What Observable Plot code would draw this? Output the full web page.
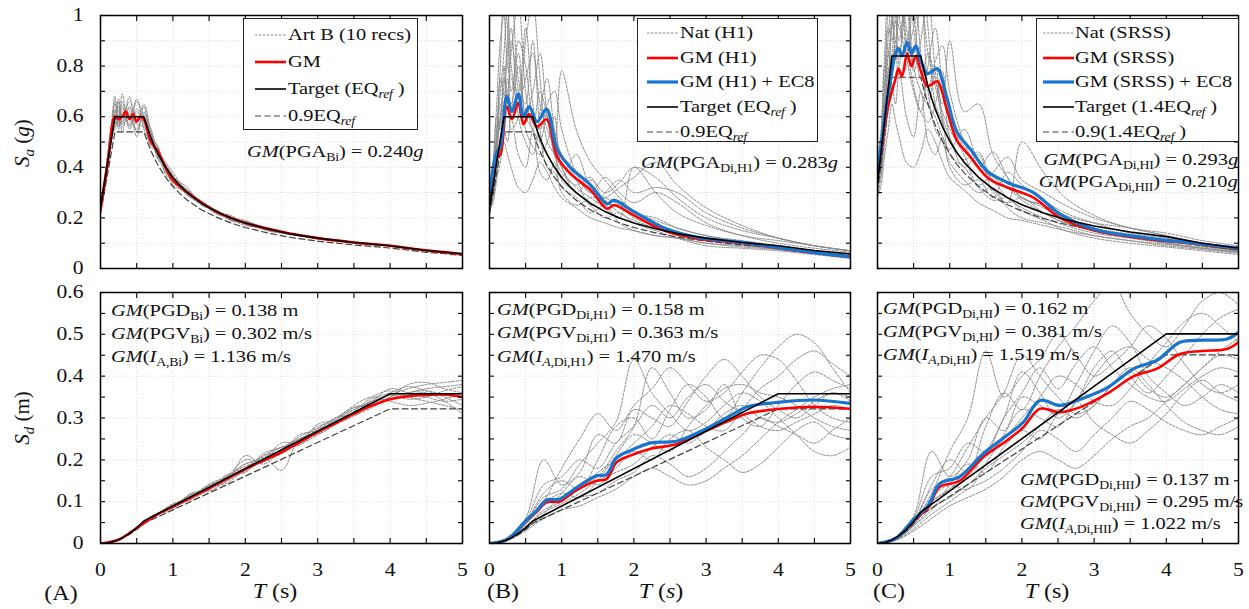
<!DOCTYPE html>
<html><head><meta charset="utf-8">
<script src="https://cdn.jsdelivr.net/npm/d3@7"></script>
<script src="https://cdn.jsdelivr.net/npm/@observablehq/plot@0.6"></script>
<style>
body{margin:0;background:#fff;}
#chart{position:relative;width:1249px;height:609px;overflow:hidden;font-family:"Liberation Serif","Times New Roman",serif;color:#111;background:#fff;}
#chart > svg{position:absolute;}
.t{position:absolute;white-space:nowrap;font-size:17px;line-height:20px;transform:scaleX(1.2);transform-origin:0 50%;}
.t.end{transform-origin:100% 50%;}
.t sub{font-size:11.5px;vertical-align:-4px;line-height:0;letter-spacing:-0.2px;}
.ax{position:absolute;white-space:nowrap;font-size:20px;line-height:24px;transform:translate(-50%,-50%) scaleX(1.2);}
.ax sub{font-size:14px;vertical-align:-5px;line-height:0;}
.axr{position:absolute;white-space:nowrap;font-size:21px;line-height:24px;transform:translate(-50%,-50%) rotate(-90deg);}
.axr sub{font-size:15px;vertical-align:-5px;line-height:0;}
.leg{position:absolute;border:1.3px solid #222;background:#fff;box-sizing:border-box;}
</style></head>
<body><div id="chart"></div>
<script>
// ---------------- DATA ----------------
const tSa = [0,0.05,0.1,0.15,0.2,0.25,0.3,0.4,0.5,0.6,0.7,0.8,0.9,1.0,1.2,1.4,1.6,1.8,2.0,2.3,2.6,3.0,3.5,4.0,4.5,5.0];
const tSd = [0,0.25,0.5,0.75,1,1.25,1.5,1.75,2,2.25,2.5,2.75,3,3.25,3.5,3.75,4,4.25,4.5,4.75,5];

// Panel A: Art B (10 recs)
const saA_recs = [
 [.24,.34,.45,.55,.63,.58,.66,.55,.62,.57,.50,.47,.38,.35,.31,.25,.23,.19,.185,.15,.14,.118,.105,.09,.072,.058],
 [.23,.31,.40,.52,.56,.66,.54,.64,.58,.65,.53,.43,.41,.37,.29,.26,.22,.21,.175,.16,.135,.122,.10,.088,.07,.056],
 [.24,.33,.44,.57,.68,.55,.62,.59,.67,.55,.49,.46,.39,.34,.30,.265,.22,.20,.19,.155,.14,.117,.104,.092,.072,.059],
 [.23,.32,.41,.50,.58,.64,.57,.68,.54,.61,.55,.44,.40,.36,.32,.25,.23,.195,.17,.16,.14,.12,.102,.089,.07,.057],
 [.24,.35,.43,.53,.62,.57,.69,.56,.63,.58,.52,.48,.37,.35,.29,.26,.225,.205,.18,.15,.135,.12,.104,.09,.071,.058],
 [.23,.30,.42,.54,.55,.61,.56,.62,.52,.64,.50,.45,.42,.38,.30,.25,.23,.19,.185,.16,.14,.118,.102,.09,.07,.057],
 [.24,.33,.45,.56,.65,.60,.64,.57,.66,.60,.54,.43,.39,.34,.31,.26,.215,.20,.175,.155,.137,.122,.104,.09,.072,.058],
 [.23,.32,.40,.52,.59,.67,.60,.63,.57,.56,.48,.46,.41,.36,.29,.255,.23,.19,.18,.16,.14,.12,.103,.091,.071,.057],
 [.24,.34,.43,.55,.61,.56,.63,.60,.55,.62,.51,.44,.40,.33,.30,.26,.22,.205,.18,.155,.137,.117,.104,.09,.07,.058],
 [.23,.31,.44,.53,.66,.62,.58,.66,.60,.58,.53,.47,.38,.36,.31,.25,.23,.195,.185,.158,.14,.12,.102,.089,.071,.058]
];
const sdA_recs = [
 [0,.009,.038,.068,.085,.115,.13,.16,.185,.2,.225,.25,.27,.29,.32,.34,.355,.37,.38,.385,.39],
 [0,.009,.036,.064,.092,.108,.138,.15,.21,.19,.22,.24,.275,.3,.31,.33,.35,.36,.365,.355,.35],
 [0,.010,.039,.07,.08,.12,.128,.165,.17,.205,.175,.25,.26,.285,.315,.35,.365,.35,.34,.33,.32],
 [0,.009,.037,.066,.095,.11,.14,.155,.18,.21,.23,.235,.27,.3,.325,.33,.345,.36,.37,.375,.38],
 [0,.008,.035,.065,.088,.105,.13,.16,.19,.2,.215,.245,.28,.29,.31,.345,.36,.375,.365,.35,.33],
 [0,.010,.038,.069,.09,.118,.125,.15,.175,.215,.23,.25,.265,.295,.33,.35,.34,.33,.335,.345,.36],
 [0,.009,.037,.067,.086,.112,.142,.162,.2,.195,.225,.255,.275,.285,.305,.325,.35,.38,.385,.37,.36],
 [0,.009,.036,.066,.093,.11,.133,.145,.178,.2,.24,.24,.26,.3,.32,.34,.37,.36,.35,.34,.345],
 [0,.010,.039,.068,.087,.116,.131,.158,.172,.21,.22,.26,.27,.29,.31,.34,.345,.355,.36,.34,.31],
 [0,.009,.037,.067,.091,.109,.137,.16,.19,.205,.23,.24,.285,.295,.325,.335,.355,.345,.35,.365,.375]
];
const saA_gmT = [0,.1,.2,.25,.3,.35,.4,.45,.5,.55,.6,.7,.8,.9,1.0,1.2,1.4,1.6,1.8,2.0,2.5,3.0,3.5,4.0,4.5,5.0];
const saA_gm  = [.23,.42,.60,.59,.60,.62,.59,.61,.58,.60,.59,.50,.46,.40,.35,.30,.26,.225,.20,.18,.145,.12,.103,.09,.072,.057];
const sdA_gm  = [0,.009,.037,.066,.088,.11,.132,.155,.178,.198,.218,.242,.266,.288,.31,.33,.345,.352,.355,.356,.35];

// Panel B: Nat (H1)
const saB_recs = [
 [.28,.35,.55,.80,1.10,.95,.70,.85,.60,.55,.50,.62,.45,.40,.30,.35,.30,.34,.40,.36,.28,.20,.15,.12,.09,.07],
 [.25,.30,.45,.60,.72,.90,1.15,.75,.65,.90,.55,.40,.38,.32,.28,.22,.25,.18,.15,.13,.12,.10,.09,.075,.06,.045],
 [.30,.40,.60,.55,.80,.65,.85,1.05,.70,.55,.70,.60,.50,.78,.55,.42,.35,.28,.22,.20,.16,.13,.11,.09,.07,.055],
 [.22,.28,.38,.50,.62,.70,.55,.60,.90,1.05,.75,.50,.45,.35,.30,.25,.20,.22,.18,.15,.12,.09,.08,.07,.055,.04],
 [.27,.33,.50,.75,.68,.85,.95,.60,.50,.45,.62,.75,.55,.45,.36,.30,.28,.25,.20,.17,.14,.12,.10,.08,.06,.045],
 [.24,.30,.42,.48,.55,.50,.60,.45,.40,.55,.38,.35,.42,.30,.25,.28,.28,.32,.36,.42,.33,.24,.17,.12,.09,.07],
 [.32,.42,.65,.90,1.0,.80,.75,.70,.95,.65,.50,.45,.40,.36,.45,.32,.27,.22,.19,.16,.13,.11,.095,.08,.065,.05],
 [.26,.32,.48,.60,.65,.75,.62,.90,.80,.60,.55,.65,.70,.55,.38,.30,.36,.30,.26,.30,.26,.18,.13,.10,.08,.065],
 [.23,.26,.35,.42,.50,.45,.40,.32,.30,.35,.42,.38,.32,.28,.24,.20,.18,.16,.15,.13,.12,.10,.085,.075,.06,.05],
 [.29,.38,.55,.70,.85,1.05,.80,.65,.75,.85,.65,.55,.48,.42,.35,.25,.30,.35,.30,.32,.30,.22,.16,.12,.09,.07],
 [.26,.34,.50,.58,.75,.70,.90,.70,.55,.48,.45,.50,.60,.40,.32,.28,.24,.20,.40,.30,.22,.17,.13,.11,.09,.07],
 [.25,.31,.44,.65,.60,.68,.65,.80,.60,.70,.85,.60,.45,.38,.33,.36,.26,.25,.22,.19,.16,.13,.105,.09,.07,.055]
];
const sdB_recs = [
 [0,.012,.05,.12,.15,.13,.20,.28,.30,.25,.32,.38,.35,.30,.36,.42,.47,.50,.48,.42,.36],
 [0,.010,.04,.08,.10,.14,.16,.22,.28,.42,.36,.30,.32,.38,.30,.28,.33,.38,.41,.39,.37],
 [0,.008,.035,.065,.09,.11,.12,.15,.17,.21,.19,.16,.18,.22,.26,.30,.28,.26,.24,.27,.30],
 [0,.015,.06,.20,.14,.17,.26,.24,.32,.30,.28,.34,.40,.44,.40,.35,.32,.30,.33,.36,.34],
 [0,.009,.04,.07,.12,.16,.14,.18,.22,.20,.25,.27,.23,.20,.17,.19,.23,.27,.29,.26,.25],
 [0,.011,.045,.10,.18,.25,.31,.27,.33,.37,.42,.38,.34,.36,.41,.45,.44,.39,.33,.30,.29],
 [0,.007,.03,.06,.08,.09,.11,.13,.16,.18,.16,.14,.15,.18,.21,.25,.29,.32,.35,.37,.38],
 [0,.013,.055,.14,.16,.20,.18,.24,.28,.33,.30,.35,.38,.34,.31,.28,.27,.29,.31,.33,.32],
 [0,.010,.045,.09,.11,.13,.17,.20,.24,.28,.33,.31,.28,.27,.32,.37,.40,.44,.46,.43,.40],
 [0,.012,.05,.11,.13,.19,.24,.29,.44,.36,.31,.27,.29,.33,.36,.34,.30,.26,.22,.21,.23],
 [0,.009,.04,.075,.095,.12,.15,.17,.19,.23,.26,.24,.27,.31,.33,.30,.29,.31,.34,.36,.35],
 [0,.011,.048,.095,.12,.11,.15,.21,.26,.24,.22,.28,.33,.37,.38,.36,.35,.33,.30,.28,.27]
];
const saB_gmT = [0,.1,.15,.24,.31,.4,.47,.55,.66,.79,.94,1.12,1.4,1.63,1.72,2.0,2.42,2.88,3.58,4.04,4.5,5.0];
const saB_gm  = [.28,.44,.45,.64,.59,.655,.57,.61,.56,.59,.44,.375,.31,.236,.25,.21,.15,.118,.098,.078,.062,.045];
const saB_ec8 = [.29,.46,.48,.68,.62,.69,.60,.64,.58,.63,.47,.40,.33,.255,.27,.225,.16,.123,.10,.08,.063,.046];
const sdB_gmT = [0,.25,.51,.65,.79,.97,1.2,1.48,1.62,1.76,1.95,2.22,2.6,3.01,3.38,3.57,4.03,4.49,5.0];
const sdB_gm  = [0,.01,.055,.075,.099,.10,.127,.15,.154,.194,.21,.226,.238,.27,.298,.311,.322,.327,.322];
const sdB_ec8 = [0,.01,.056,.078,.104,.106,.133,.162,.165,.205,.222,.24,.245,.275,.31,.327,.338,.343,.335];

// Panel C: Nat (SRSS)
const saC_recs = [
 [.38,.50,.75,1.05,1.20,1.0,.90,1.10,.80,.70,.65,.80,.60,.52,.40,.45,.30,.26,.28,.22,.18,.15,.13,.11,.09,.07],
 [.33,.42,.60,.85,.95,1.15,1.25,.95,.85,1.10,.70,.55,.50,.42,.35,.30,.32,.24,.20,.18,.16,.13,.11,.09,.075,.06],
 [.40,.52,.80,.75,1.0,.85,1.05,1.20,.95,.75,.85,.75,.65,.90,.62,.65,.45,.36,.28,.25,.20,.16,.13,.10,.08,.065],
 [.29,.36,.50,.65,.80,.90,.75,.80,1.10,1.20,.95,.65,.58,.45,.40,.32,.27,.28,.23,.19,.15,.12,.10,.085,.07,.055],
 [.36,.45,.68,.95,.90,1.10,1.20,.85,.70,.62,.80,.95,.72,.58,.48,.40,.36,.32,.27,.22,.18,.15,.13,.10,.08,.065],
 [.31,.38,.55,.62,.72,.65,.78,.60,.52,.70,.50,.45,.52,.40,.33,.35,.28,.38,.33,.27,.22,.18,.14,.12,.10,.08],
 [.43,.55,.85,1.15,1.25,1.05,.95,.90,1.15,.85,.65,.60,.52,.47,.55,.42,.35,.28,.24,.20,.17,.14,.12,.10,.085,.07],
 [.34,.42,.62,.78,.85,.98,.80,1.12,1.0,.78,.72,.82,.88,.70,.50,.40,.46,.36,.28,.25,.21,.18,.16,.13,.10,.085],
 [.28,.33,.45,.55,.65,.58,.52,.42,.40,.46,.55,.50,.42,.36,.31,.26,.23,.20,.19,.17,.15,.13,.11,.095,.08,.065],
 [.39,.50,.72,.92,1.10,1.25,1.0,.85,.95,1.05,.85,.72,.62,.55,.45,.33,.38,.44,.35,.30,.25,.20,.16,.13,.10,.08],
 [.35,.44,.65,.75,.98,.90,1.15,.90,.72,.62,.58,.65,.78,.52,.42,.36,.31,.26,.50,.38,.28,.21,.16,.14,.11,.09],
 [.33,.40,.58,.85,.78,.88,.85,1.05,.78,.90,1.08,.78,.58,.50,.43,.46,.34,.32,.28,.24,.20,.16,.135,.11,.09,.07]
];
const sdC_recs = [
 [0,.012,.05,.14,.20,.17,.28,.36,.32,.40,.47,.52,.58,.62,.55,.50,.47,.52,.58,.60,.57],
 [0,.010,.045,.10,.13,.18,.22,.30,.41,.36,.30,.34,.42,.46,.40,.36,.40,.45,.50,.54,.56],
 [0,.008,.035,.07,.10,.13,.15,.18,.22,.27,.25,.22,.26,.30,.34,.32,.29,.27,.26,.28,.30],
 [0,.015,.065,.22,.16,.20,.30,.27,.35,.33,.31,.38,.46,.52,.48,.40,.36,.33,.35,.38,.36],
 [0,.009,.042,.08,.14,.19,.17,.23,.27,.25,.31,.34,.29,.26,.24,.27,.31,.36,.39,.36,.34],
 [0,.011,.05,.12,.22,.30,.46,.35,.40,.44,.50,.45,.40,.43,.47,.52,.49,.43,.38,.36,.38],
 [0,.007,.03,.06,.09,.11,.13,.16,.20,.22,.20,.18,.21,.25,.28,.30,.34,.38,.42,.46,.49],
 [0,.013,.06,.16,.18,.24,.22,.30,.36,.42,.37,.43,.47,.42,.38,.35,.34,.37,.40,.42,.41],
 [0,.010,.047,.10,.13,.16,.21,.25,.30,.35,.40,.38,.34,.33,.37,.43,.48,.53,.55,.52,.48],
 [0,.012,.055,.13,.16,.23,.30,.36,.45,.40,.35,.31,.33,.38,.42,.38,.33,.29,.27,.26,.28],
 [0,.009,.042,.085,.11,.14,.18,.21,.24,.28,.32,.30,.33,.38,.41,.37,.35,.38,.42,.45,.44],
 [0,.011,.05,.11,.14,.13,.19,.26,.32,.30,.28,.34,.40,.45,.47,.44,.42,.39,.35,.32,.31]
];
const saC_gmT = [0,.07,.13,.2,.25,.29,.34,.41,.47,.53,.6,.69,.76,.83,.965,1.1,1.29,1.52,1.8,2.16,2.53,3.0,3.69,4.38,5.0];
const saC_gm  = [.37,.50,.62,.70,.75,.79,.76,.85,.80,.84,.78,.72,.73,.74,.625,.506,.44,.36,.32,.28,.20,.15,.118,.098,.078];
const saC_ec8 = [.38,.53,.66,.78,.85,.87,.84,.895,.85,.88,.82,.77,.78,.79,.67,.54,.47,.385,.34,.30,.215,.155,.122,.10,.08];
const sdC_gmT = [0,.25,.49,.7,.86,1.14,1.46,1.79,2.02,2.25,2.53,2.81,3.18,3.55,3.87,4.19,4.5,4.84,5.0];
const sdC_gm  = [0,.012,.055,.085,.135,.15,.206,.246,.278,.322,.314,.326,.358,.40,.418,.453,.46,.465,.481];
const sdC_ec8 = [0,.012,.056,.09,.143,.16,.214,.258,.29,.342,.33,.345,.372,.418,.438,.481,.486,.489,.505];

// Targets
const tgtSaT   = [0,0.2,0.6,0.65,0.7,0.75,0.8,0.9,1.0,1.1,1.2,1.4,1.6,1.8,2.0,2.3,2.6,3.0,3.5,4.0,4.5,5.0];
const saRef    = [.24,.60,.60,.554,.514,.48,.45,.40,.36,.327,.30,.257,.225,.20,.18,.157,.138,.12,.103,.09,.071,.058];
const saRef09  = [.216,.54,.54,.499,.463,.432,.405,.36,.324,.295,.27,.231,.203,.18,.162,.141,.124,.108,.093,.081,.064,.052];
const sa14     = [.336,.84,.84,.775,.72,.672,.63,.56,.504,.458,.42,.36,.315,.28,.252,.219,.194,.168,.144,.126,.10,.081];
const sa14_09  = [.302,.756,.756,.698,.648,.605,.567,.504,.454,.412,.378,.324,.284,.252,.227,.197,.175,.151,.13,.113,.09,.073];
const tgtSdT   = [0,0.1,0.2,0.3,0.4,0.5,0.6,4,5];
const sdRef    = [0,.001,.006,.0134,.0239,.0373,.0537,.358,.358];
const sdRef09  = [0,.0009,.0054,.0121,.0215,.0336,.0483,.322,.322];
const sd14     = [0,.0015,.0083,.0188,.0334,.0522,.0752,.501,.501];
const sd14_09  = [0,.0013,.0075,.0169,.0301,.047,.0677,.451,.451];

// Ticks
const xLabelTicks = [0,1,2,3,4,5];
const xMinorTicks = [0,0.5,1,1.5,2,2.5,3,3.5,4,4.5,5];
const yTopLabels = [0,0.2,0.4,0.6,0.8,1];
const yTopMinor = [0,0.1,0.2,0.3,0.4,0.5,0.6,0.7,0.8,0.9,1];
const yBotLabels = [0,0.1,0.2,0.3,0.4,0.5,0.6];
const yBotMinor = [0,0.05,0.1,0.15,0.2,0.25,0.3,0.35,0.4,0.45,0.5,0.55,0.6];

// ---------------- STYLE / LAYOUT ----------------
const C = {
  rec: {stroke:"#8a8a8a", w:1, dash:"2.5,1.5"},
  gm:  {stroke:"#ff0000", w:2.6},
  ec8: {stroke:"#1874cd", w:3.2},
  tgt: {stroke:"#000000", w:1.6},
  t09: {stroke:"#404040", w:1.2, dash:"6,3.5"}
};
const colLeft = [100, 489, 877], colW = [362, 361, 361];
const rowTop = [15, 292], rowH = [253, 251];
const SX = 1.2;
const chart = document.getElementById("chart");
const rows = (T, v) => T.map((t, i) => ({T: t, v: v[i]}));
const recRows = (T, recs) => recs.flatMap((vals, id) => vals.map((v, i) => ({T: T[i], v, id})));
const fmt = d => String(+d.toFixed(2));

function stretchText(svg) {
  svg.querySelectorAll("text").forEach(el => {
    const tr = el.getAttribute("transform") || "";
    if (/rotate/.test(tr)) return;
    const x = el.getAttribute("x");
    let extra = "";
    if (x != null && /^-?[\d.]+$/.test(x.trim())) { extra = ` translate(${x},0)`; el.removeAttribute("x"); }
    el.setAttribute("transform", `${tr}${extra} scale(${SX},1)`);
  });
}

function panel(p) {
  const {col, row} = p;
  const ml = col === 0 ? 60 : 8, mr = 8, mt = 14, mb = row === 1 ? 40 : 14;
  const yMax = row === 0 ? 1 : 0.6;
  const yMinor = row === 0 ? yTopMinor : yBotMinor;
  const yLabels = row === 0 ? yTopLabels : yBotLabels;
  const gridStyle = {stroke: "#d4d4d4", strokeOpacity: 1, strokeDasharray: "1,2", strokeWidth: 0.8};
  const line = (data, s, extra = {}) => Plot.line(data, {x: "T", y: "v", stroke: s.stroke, strokeWidth: s.w, strokeDasharray: s.dash, clip: true, ...extra});
  const marks = [
    Plot.gridX(xMinorTicks.slice(1, -1), gridStyle),
    Plot.gridY((row === 0 ? yTopMinor : yBotLabels).slice(1, -1), gridStyle),
    line(recRows(p.recT, p.recs), C.rec, {z: "id", curve: "catmull-rom"}),
    line(rows(p.tgtT, p.t09), C.t09),
    line(rows(p.gmT, p.gm), C.gm, {curve: "catmull-rom"})
  ];
  if (p.ec8) marks.push(line(rows(p.gmT, p.ec8), C.ec8, {curve: "catmull-rom"}));
  marks.push(line(rows(p.tgtT, p.tgt), C.tgt));
  marks.push(Plot.frame({stroke: "#000", strokeWidth: 1.5}));
  const tk = {tickFormat: () => "", label: null, stroke: "#000", strokeWidth: 1.1};
  marks.push(
    Plot.axisY(yMinor, {anchor: "left", tickSize: -5, ...tk}),
    Plot.axisY(yMinor, {anchor: "right", tickSize: -5, ...tk}),
    Plot.axisX(xMinorTicks, {anchor: "bottom", tickSize: -5, ...tk}),
    Plot.axisX(xMinorTicks, {anchor: "top", tickSize: -5, ...tk})
  );
  if (col === 0) marks.push(Plot.axisY(yLabels, {anchor: "left", tickSize: 0, tickPadding: 17, tickFormat: fmt, label: null, fill: "#111"}));
  if (row === 1) marks.push(Plot.axisX(xLabelTicks, {anchor: "bottom", tickSize: 0, tickPadding: 20, tickFormat: fmt, label: null, fill: "#111"}));
  const svg = Plot.plot({
    width: ml + colW[col] + mr, height: mt + rowH[row] + mb,
    marginLeft: ml, marginRight: mr, marginTop: mt, marginBottom: mb,
    x: {domain: [0, 5]}, y: {domain: [0, yMax]},
    style: {fontFamily: '"Liberation Serif", serif', fontSize: "18px", background: "transparent", color: "#111"},
    marks
  });
  svg.style.left = (colLeft[col] - ml) + "px";
  svg.style.top = (rowTop[row] - mt) + "px";
  stretchText(svg);
  chart.appendChild(svg);
}

panel({col: 0, row: 0, recT: tSa, recs: saA_recs, gmT: saA_gmT, gm: saA_gm, tgtT: tgtSaT, tgt: saRef, t09: saRef09});
panel({col: 1, row: 0, recT: tSa, recs: saB_recs, gmT: saB_gmT, gm: saB_gm, ec8: saB_ec8, tgtT: tgtSaT, tgt: saRef, t09: saRef09});
panel({col: 2, row: 0, recT: tSa, recs: saC_recs, gmT: saC_gmT, gm: saC_gm, ec8: saC_ec8, tgtT: tgtSaT, tgt: sa14, t09: sa14_09});
panel({col: 0, row: 1, recT: tSd, recs: sdA_recs, gmT: tSd, gm: sdA_gm, tgtT: tgtSdT, tgt: sdRef, t09: sdRef09});
panel({col: 1, row: 1, recT: tSd, recs: sdB_recs, gmT: sdB_gmT, gm: sdB_gm, ec8: sdB_ec8, tgtT: tgtSdT, tgt: sdRef, t09: sdRef09});
panel({col: 2, row: 1, recT: tSd, recs: sdC_recs, gmT: sdC_gmT, gm: sdC_gm, ec8: sdC_ec8, tgtT: tgtSdT, tgt: sd14, t09: sd14_09});

// ---------------- TEXT ----------------
function txt(html, x, cy, cls = "t", anchor = "start") {
  const d = document.createElement("div");
  d.className = cls + (anchor === "end" ? " end" : "");
  d.innerHTML = html;
  if (anchor === "end") d.style.right = (1249 - x) + "px"; else d.style.left = x + "px";
  d.style.top = (cy - 10) + "px";
  chart.appendChild(d);
}
function axLabel(html, cx, cy, cls) {
  const d = document.createElement("div");
  d.className = cls; d.innerHTML = html;
  d.style.left = cx + "px"; d.style.top = cy + "px";
  chart.appendChild(d);
}
const ns = "http://www.w3.org/2000/svg";
function legend(box, sx, tx, items) {
  const b = document.createElement("div");
  b.className = "leg";
  b.style.left = box[0] + "px"; b.style.top = box[1] + "px";
  b.style.width = (box[2] - box[0]) + "px"; b.style.height = (box[3] - box[1]) + "px";
  chart.appendChild(b);
  items.forEach(([s, label, y]) => {
    const sv = document.createElementNS(ns, "svg");
    sv.setAttribute("width", 31); sv.setAttribute("height", 10);
    sv.style.left = sx + "px"; sv.style.top = (y - 5) + "px";
    const l = document.createElementNS(ns, "line");
    l.setAttribute("x1", 0); l.setAttribute("x2", 31); l.setAttribute("y1", 5); l.setAttribute("y2", 5);
    l.setAttribute("stroke", s.stroke); l.setAttribute("stroke-width", s.w);
    if (s.dash) l.setAttribute("stroke-dasharray", s.dash);
    sv.appendChild(l);
    chart.appendChild(sv);
    txt(label, tx, y);
  });
}
const REF = "<sub><i>ref</i></sub>";
legend([243, 18, 418, 130], 255, 288, [
  [C.rec, "Art B (10 recs)", 35], [C.gm, "GM", 62], [C.tgt, `Target (EQ${REF} )`, 89], [C.t09, `0.9EQ${REF}`, 116]
]);
legend([637, 18, 818, 142], 647, 680, [
  [C.rec, "Nat (H1)", 33], [C.gm, "GM (H1)", 58], [C.ec8, "GM (H1) + EC8", 82], [C.tgt, `Target (EQ${REF} )`, 107], [C.t09, `0.9EQ${REF}`, 132]
]);
legend([1036, 18, 1239, 142], 1043, 1075, [
  [C.rec, "Nat (SRSS)", 33], [C.gm, "GM (SRSS)", 58], [C.ec8, "GM (SRSS) + EC8", 82], [C.tgt, `Target (1.4EQ${REF} )`, 107], [C.t09, `0.9(1.4EQ${REF} )`, 132]
]);

txt("<i>GM</i>(PGA<sub>Bi</sub>) = 0.240<i>g</i>", 247, 152);
txt("<i>GM</i>(PGA<sub>Di,H1</sub>) = 0.283<i>g</i>", 641, 163);
txt("<i>GM</i>(PGA<sub>Di,HI</sub>) = 0.293<i>g</i>", 1238, 160, "t", "end");
txt("<i>GM</i>(PGA<sub>Di,HII</sub>) = 0.210<i>g</i>", 1238, 182, "t", "end");

const sdNotes = [
  [111, ["PGD<sub>Bi</sub>) = 0.138 m", "PGV<sub>Bi</sub>) = 0.302 m/s", "<i>I</i><sub>A,Bi</sub>) = 1.136 m/s"], [311, 334, 357]],
  [497, ["PGD<sub>Di,H1</sub>) = 0.158 m", "PGV<sub>Di,H1</sub>) = 0.363 m/s", "<i>I</i><sub><i>A</i>,Di,H1</sub>) = 1.470 m/s"], [310, 333, 357]],
  [883, ["PGD<sub>Di,HI</sub>) = 0.162 m", "PGV<sub>Di,HI</sub>) = 0.381 m/s", "<i>I</i><sub><i>A</i>,Di,HI</sub>) = 1.519 m/s"], [309, 332, 355]],
  [1020, ["PGD<sub>Di,HII</sub>) = 0.137 m", "PGV<sub>Di,HII</sub>) = 0.295 m/s", "<i>I</i><sub><i>A</i>,Di,HII</sub>) = 1.022 m/s"], [480, 502, 524]]
];
sdNotes.forEach(([x, lines, ys]) => lines.forEach((l, i) => txt("<i>GM</i>(" + l, x, ys[i])));

axLabel("<i>S</i><sub><i>a</i></sub> (<i>g</i>)", 22, 143, "axr");
axLabel("<i>S</i><sub><i>d</i></sub> (m)", 22, 418, "axr");
axLabel("<i>T</i> (s)", 275, 591, "ax");
axLabel("<i>T</i> (<i>s</i>)", 661, 591, "ax");
axLabel("<i>T</i> (s)", 1047, 591, "ax");
axLabel("(A)", 61, 593, "ax");
axLabel("(B)", 503, 591, "ax");
axLabel("(C)", 889, 591, "ax");
</script></body></html>
